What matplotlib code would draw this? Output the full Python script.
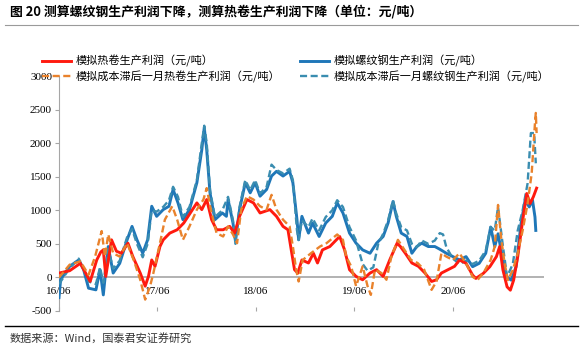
import matplotlib
matplotlib.use("Agg")
import matplotlib.pyplot as plt
import matplotlib.lines as mlines

plt.rcParams['font.family'] = ['Noto Sans CJK SC', 'DejaVu Sans']

# months since 2016-06
hr_m = [0, 1.3, 2.6, 3.8, 4.6, 5.1, 5.4, 5.7, 6.4, 7.0, 7.6, 8.4, 9.0, 9.9, 10.5, 10.9, 11.3, 11.7,
        12.3, 12.7, 13.5, 14.4, 15.2, 16.0, 16.8, 17.4, 18.0, 18.6, 19.2, 20.0, 20.8, 21.4, 22.0, 22.9,
        23.7, 24.5, 25.7, 26.5, 27.3, 27.9, 28.3, 28.7, 29.1, 29.6, 30.4, 31.0, 31.5, 32.1, 33.0, 33.8,
        34.2, 34.8, 35.4, 36.2, 37.0, 37.9, 38.7, 39.5, 40.3, 41.2, 41.6, 42.2, 43.0, 43.8, 44.6, 45.4,
        46.0, 46.6, 47.4, 48.2, 48.8, 49.6, 50.4, 50.8, 51.7, 52.5, 53.3, 53.7, 54.1, 54.6, 55.0, 55.4,
        55.9, 56.5, 57.0, 57.4, 57.8, 58.2]
hr_v = [65, 100, 210, -60, 260, 380, 410, 15, 560, 390, 360, 510, 310, 65, -130, 15, 260, 165,
        460, 560, 660, 710, 810, 960, 1110, 1010, 1160, 860, 710, 710, 760, 660, 910, 1160,
        1110, 960, 1010, 910, 760, 710, 410, 115, 65, 260, 215, 360, 215, 410, 460, 560,
        610, 410, 115, 15, -35, 65, 115, 15, 260, 510, 460, 360, 215, 165, 65, -60,
        -35, 65, 115, 165, 260, 210, 35, -15, 60, 160, 310, 460, 110, -140, -190, -40,
        310, 850, 1250, 1100, 1200, 1330]

rb_m = [0, 0.2, 1.3, 2.4, 3.0, 3.6, 4.5, 5.0, 5.4, 6.0, 6.6, 7.4, 8.3, 8.9, 9.5, 10.2, 10.8, 11.3,
        11.9, 12.7, 13.4, 13.9, 14.5, 15.1, 15.9, 16.8, 17.4, 17.7, 18.0, 18.4, 19.0, 19.9, 20.4, 20.6,
        21.2, 21.5, 22.0, 22.7, 23.3, 23.9, 24.5, 25.3, 25.9, 26.5, 27.3, 28.1, 28.5, 29.0, 29.2, 29.6,
        30.4, 30.9, 31.7, 32.5, 33.3, 33.9, 34.6, 35.4, 36.2, 37.0, 37.9, 38.7, 39.5, 40.1, 40.7, 41.1,
        41.7, 42.4, 43.0, 43.6, 44.2, 45.0, 45.8, 46.4, 47.2, 48.0, 48.8, 49.6, 50.4, 51.2, 52.0, 52.6,
        53.1, 53.5, 54.1, 54.5, 55.1, 55.7, 56.3, 56.8, 57.3, 57.7, 58.0, 58.1]
rb_v = [-300, -30, 165, 260, 115, -160, -185, 115, -260, 460, 65, 210, 560, 760, 560, 360, 560, 1060,
        910, 1010, 1060, 1310, 1110, 860, 1010, 1410, 1900, 2230, 1900, 1260, 860, 960, 910, 1160,
        810, 560, 1010, 1410, 1260, 1410, 1210, 1310, 1510, 1580, 1510, 1580, 1410, 860, 560, 910,
        660, 810, 610, 810, 910, 1110, 960, 660, 510, 410, 360, 510, 610, 810, 1130, 910,
        660, 610, 360, 460, 510, 460, 460, 420, 360, 310, 260, 310, 160, 210, 360, 750,
        460, 650, 260, 10, -40, 160, 800, 1150, 1050, 1150, 900, 700]

hr_lag_m = [0, 1.3, 2.6, 3.6, 4.4, 5.2, 5.6, 6.0, 6.6, 7.4, 8.3, 9.1, 9.9, 10.5, 11.1, 11.5, 12.3, 12.9,
            13.8, 14.4, 15.1, 15.9, 16.8, 17.6, 18.0, 18.5, 19.2, 20.0, 20.6, 21.2, 21.7, 22.2, 22.9, 23.7,
            24.5, 25.3, 25.9, 26.5, 27.3, 28.1, 28.5, 28.9, 29.2, 29.7, 30.7, 31.8, 32.6, 33.9, 34.6, 35.0,
            35.6, 36.2, 37.0, 37.6, 38.0, 38.5, 39.3, 39.9, 40.5, 41.3, 42.1, 42.9, 43.7, 44.5, 45.4, 46.0,
            46.6, 47.2, 48.0, 48.8, 49.6, 50.4, 51.0, 51.8, 52.6, 53.1, 53.5, 53.9, 54.3, 54.7, 55.3, 55.9,
            56.5, 57.1, 57.6, 58.0, 58.1, 58.2]
hr_lag_v = [0, 190, 240, 40, 310, 690, 310, 640, 360, 310, 510, 260, -35, -330, -130, 65, 510, 860,
            1060, 860, 560, 760, 1010, 1160, 1330, 1010, 660, 610, 760, 640, 510, 1010, 1210, 1160,
            1060, 1010, 1230, 1010, 860, 760, 460, 115, -60, 260, 360, 460, 510, 640, 560, 310,
            165, -130, 165, -130, -260, 115, 65, -35, 310, 560, 410, 260, 215, 115, -185, -60,
            360, 310, 260, 360, 210, 10, -40, 85, 260, 460, 1080, 560, 210, -40, 110, 360,
            700, 1100, 1550, 2300, 2450, 2150]

rb_lag_m = [0, 1.3, 2.4, 3.0, 3.6, 4.5, 5.0, 5.4, 6.0, 6.6, 7.4, 8.3, 8.9, 9.5, 10.2, 10.8, 11.3, 11.9,
            12.7, 13.4, 13.9, 14.5, 15.1, 15.9, 16.8, 17.4, 17.7, 18.0, 18.4, 19.0, 19.9, 20.6, 21.2, 21.5,
            22.0, 22.7, 23.3, 23.9, 24.5, 25.3, 25.9, 26.5, 27.3, 28.1, 28.5, 29.0, 29.2, 29.6, 30.4, 30.9,
            31.7, 32.5, 33.3, 33.9, 34.6, 35.4, 36.2, 37.0, 37.6, 38.3, 38.9, 39.5, 40.1, 40.7, 41.1, 41.7,
            42.4, 43.0, 43.6, 44.2, 45.0, 45.8, 46.4, 46.8, 47.2, 48.0, 48.8, 49.6, 50.4, 51.2, 52.0, 52.6,
            53.1, 53.5, 54.1, 54.6, 55.3, 55.9, 56.5, 57.1, 57.5, 57.9, 58.1]
rb_lag_v = [-100, 140, 280, 120, -60, -100, 150, -80, 420, 130, 250, 600, 720, 500, 300, 500, 1000, 980,
            1050, 1150, 1350, 1200, 900, 1050, 1450, 2000, 2260, 2000, 1300, 900, 1000, 1200, 850, 500,
            1050, 1450, 1300, 1450, 1250, 1350, 1680, 1600, 1550, 1620, 1450, 700, 560, 850, 750, 880,
            700, 900, 1000, 1150, 1050, 750, 550, 200, 100, 150, 500, 650, 850, 1150, 950, 750,
            700, 500, 450, 550, 500, 550, 660, 640, 450, 280, 200, 250, 200, 250, 400, 750,
            700, 1050, 460, 10, 200, 700, 1000, 1400, 2150, 2150, 1700]

tick_m = [0, 12, 24, 36, 48]
tick_lab = ['16/06', '17/06', '18/06', '19/06', '20/06']
y_ticks = [-500, 0, 500, 1000, 1500, 2000, 2500, 3000]

c_red = '#FF1A0F'
c_blue = '#1F77B8'
c_orange = '#E9822C'
c_teal = '#3A8DB0'

fig = plt.figure(figsize=(5.86, 3.57), dpi=100)
ax = fig.add_axes([59 / 586, 1 - 311 / 357, (544 - 59) / 586, (311 - 76) / 357])

ax.plot(rb_m, rb_v, color=c_blue, lw=2.1, zorder=3)
ax.plot(rb_lag_m, rb_lag_v, color=c_teal, lw=1.7, ls=(0, (3, 1.5)), zorder=4)
ax.plot(hr_m, hr_v, color=c_red, lw=2.1, zorder=5)
ax.plot(hr_lag_m, hr_lag_v, color=c_orange, lw=1.7, ls=(0, (3, 1.5)), zorder=6)

ax.set_xlim(0, 59.1)
ax.set_ylim(-500, 3000)
ax.set_yticks(y_ticks)
ax.set_yticklabels([str(v) for v in y_ticks], family='Liberation Serif', fontsize=8)
ax.set_xticks(tick_m)
ax.set_xticklabels(tick_lab, family='Liberation Serif', fontsize=8)

for s in ['top', 'right', 'bottom']:
    ax.spines[s].set_visible(False)
ax.spines['left'].set_color('#A6A6A6')
ax.axhline(0, color='#A6A6A6', lw=1.2, zorder=2)
ax.tick_params(axis='y', length=3, color='#A6A6A6', pad=2)
ax.tick_params(axis='x', direction='in', length=3, color='#A6A6A6', pad=4)
for lab in ax.get_xticklabels():
    lab.set_y(0.125)

handles = [
    mlines.Line2D([], [], color=c_red, lw=2.1),
    mlines.Line2D([], [], color=c_orange, lw=1.7, ls=(0, (3, 1.5))),
    mlines.Line2D([], [], color=c_blue, lw=2.1),
    mlines.Line2D([], [], color=c_teal, lw=1.7, ls=(0, (3, 1.5))),
]
labels = ['模拟热卷生产利润（元/吨）', '模拟成本滞后一月热卷生产利润（元/吨）',
          '模拟螺纹钢生产利润（元/吨）', '模拟成本滞后一月螺纹钢生产利润（元/吨）']
fig.legend(handles, labels, ncol=2, loc='upper left', bbox_to_anchor=(42 / 586, 1 - 55 / 357),
           frameon=False, fontsize=8, handlelength=2.6, handletextpad=0.4,
           columnspacing=1.8, labelspacing=0.3, borderaxespad=0, borderpad=0)

fig.text(10 / 586, 1 - 12 / 357, '图 20 测算螺纹钢生产利润下降，测算热卷生产利润下降（单位：元/吨）',
         fontsize=9.3, fontweight='bold', va='center', ha='left')
fig.add_artist(mlines.Line2D([5 / 586, 578 / 586], [1 - 25 / 357, 1 - 25 / 357], color='#9A9A9A', lw=0.8))
fig.add_artist(mlines.Line2D([5 / 586, 578 / 586], [1 - 326 / 357, 1 - 326 / 357], color='#000000', lw=1.0))
fig.text(10 / 586, 1 - 338 / 357, '数据来源：Wind，国泰君安证券研究', fontsize=8, va='center', ha='left',
         color='#333333')

fig.savefig('out.png', dpi=100)
